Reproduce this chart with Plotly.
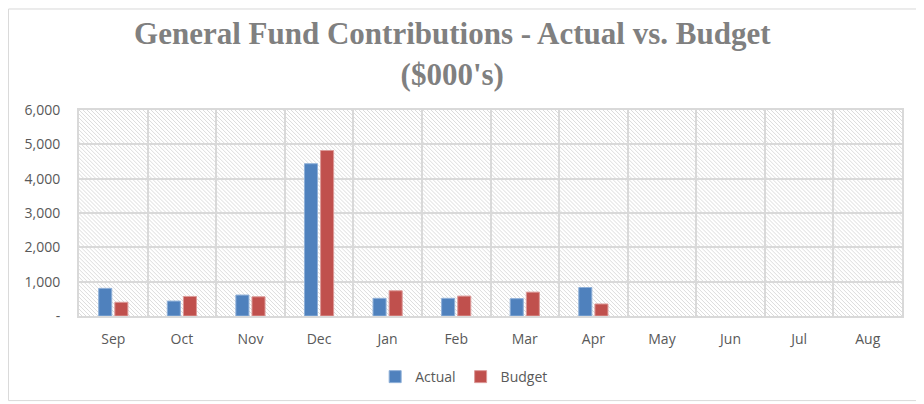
import base64
import plotly.graph_objects as go

months = ["Sep", "Oct", "Nov", "Dec", "Jan", "Feb", "Mar", "Apr", "May", "Jun", "Jul", "Aug"]
actual = [805, 435, 610, 4435, 515, 515, 505, 830, None, None, None, None]
budget = [400, 570, 560, 4820, 735, 580, 695, 350, None, None, None, None]
y_ticks = [0, 1000, 2000, 3000, 4000, 5000, 6000]
y_tick_labels = ["-", "1,000", "2,000", "3,000", "4,000", "5,000", "6,000"]

# hatched plot background, drawn as an svg image behind the bars
svg = (
    '<svg xmlns="http://www.w3.org/2000/svg" width="823" height="207">'
    '<defs><pattern id="h" patternUnits="userSpaceOnUse" width="4" height="4">'
    '<path d="M-1,-1 L5,5 M-1,3 L1,5 M3,-1 L5,1" stroke="#dcdcdc" stroke-width="1"/>'
    '</pattern></defs>'
    '<rect width="823" height="207" fill="url(#h)"/></svg>'
)
bg = "data:image/svg+xml;base64," + base64.b64encode(svg.encode()).decode()

fig = go.Figure()
fig.add_trace(go.Bar(x=months, y=actual, name="Actual", marker_color="#4F81BD",
                     marker_line=dict(color="#8fb0d8", width=1)))
fig.add_trace(go.Bar(x=months, y=budget, name="Budget", marker_color="#C0504D",
                     marker_line=dict(color="#dc9a98", width=1)))

# page body has an 8px margin, so the figure is a bit smaller than the window
fig.update_layout(
    width=916, height=396,
    margin=dict(l=71, r=22, t=102, b=87),
    paper_bgcolor="white", plot_bgcolor="rgba(0,0,0,0)",
    barmode="group", bargap=0.53, bargroupgap=0.19,
    title=dict(text="General Fund Contributions - Actual vs. Budget<br>($000's)",
               x=0.485, xanchor="center", yref="container", y=0.908, yanchor="top",
               font=dict(family="Liberation Serif", size=31, color="#808080", weight="bold")),
    font=dict(family="Open Sans", size=14, color="#595959"),
    legend=dict(orientation="h", x=0.468, xanchor="center", y=-0.29, yanchor="middle",
                font=dict(size=14, color="#595959"), itemwidth=30, traceorder="normal"),
    showlegend=True,
    images=[dict(source=bg, xref="paper", yref="paper", x=0, y=1, sizex=1, sizey=1,
                 xanchor="left", yanchor="top", sizing="stretch", layer="below")],
    shapes=[dict(type="rect", xref="paper", yref="paper",
                 x0=-0.0857, x1=1.0243, y0=-0.4106, y1=1.4903,
                 line=dict(color="#d9d9d9", width=1))],
)
fig.update_xaxes(type="category", tickson="boundaries", showgrid=True, gridcolor="#d9d9d9",
                 gridwidth=2, showline=True, linecolor="#d9d9d9", linewidth=2, mirror=True,
                 ticks="", ticklabelstandoff=9, tickfont=dict(size=14, color="#595959"))
fig.update_yaxes(range=[0, 6000], tickvals=y_ticks, ticktext=y_tick_labels, showgrid=True,
                 gridcolor="#d9d9d9", gridwidth=2, showline=True, linecolor="#d9d9d9",
                 linewidth=2, mirror=True, zeroline=False, ticks="", ticklabelstandoff=14,
                 tickfont=dict(size=14, color="#595959"))

fig.write_html("out.html")
